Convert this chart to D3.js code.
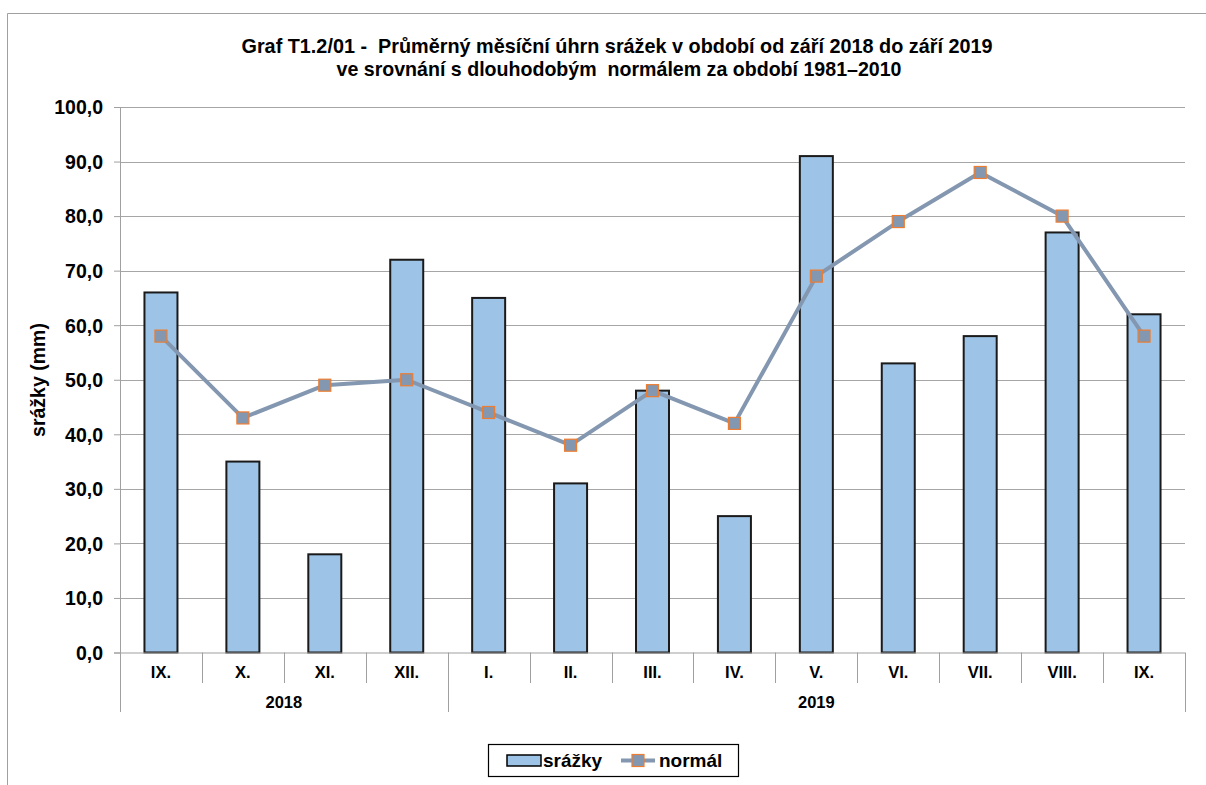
<!DOCTYPE html>
<html><head><meta charset="utf-8">
<script src="https://cdn.jsdelivr.net/npm/d3@7/dist/d3.min.js"></script>
<style>
body{margin:0;background:#fff;}
text{font-family:"Liberation Sans",Arial,sans-serif;font-weight:bold;fill:#000;white-space:pre;}
</style></head>
<body><svg id="c" width="1206" height="785"></svg>
<script>
const months = ["IX.","X.","XI.","XII.","I.","II.","III.","IV.","V.","VI.","VII.","VIII.","IX."];
const years = [{label:"2018", start:0, end:4},{label:"2019", start:4, end:13}];
const srazky = [66,35,18,72,65,31,48,25,91,53,58,77,62];
const normal = [58,43,49,50,44,38,48,42,69,79,88,80,58];
const yTicks = [0,10,20,30,40,50,60,70,80,90,100];

const svg = d3.select("#c");
const L=120, R=1185, T=107, B=652.5;
const idx = months.map((d,i)=>i);
const x = d3.scaleBand().domain(idx).range([L,R]).paddingInner(0).paddingOuter(0);
const y = d3.scaleLinear().domain([0,100]).range([B,T]);
const fmt = v => d3.format(".1f")(v).replace(".",",");

// outer frame
svg.append("line").attr("x1",7.5).attr("x2",1206).attr("y1",13.5).attr("y2",13.5).attr("stroke","#a0a0a0");
svg.append("line").attr("x1",7.5).attr("x2",7.5).attr("y1",13.5).attr("y2",785).attr("stroke","#a0a0a0");

// title
svg.append("text").attr("x",617).attr("y",53).attr("text-anchor","middle").style("font-size","19.8px")
  .attr("textLength",751).attr("lengthAdjust","spacingAndGlyphs")
  .text("Graf T1.2/01 -  Průměrný měsíční úhrn srážek v období od září 2018 do září 2019");
svg.append("text").attr("x",619).attr("y",76).attr("text-anchor","middle").style("font-size","19.8px")
  .attr("textLength",565).attr("lengthAdjust","spacingAndGlyphs")
  .text("ve srovnání s dlouhodobým  normálem za období 1981–2010");

// gridlines
svg.append("g").selectAll("line").data(yTicks.filter(d=>d>0)).join("line")
  .attr("x1",L).attr("x2",R).attr("y1",d=>Math.round(y(d))+0.5).attr("y2",d=>Math.round(y(d))+0.5)
  .attr("stroke","#a6a6a6").attr("stroke-width",1.2);

// y axis
const ya = svg.append("g").attr("transform",`translate(${L},0)`)
  .call(d3.axisLeft(y).tickValues(yTicks).tickFormat(fmt).tickSize(6).tickPadding(11));
ya.attr("font-size",null).attr("font-family",null);
ya.select(".domain").attr("stroke","#a0a0a0");
ya.selectAll(".tick line").attr("stroke","#a0a0a0");
ya.selectAll(".tick text").style("font-size","19.5px").style("fill","#000").attr("dy","0.35em");

svg.append("text").attr("transform","translate(45,380) rotate(-90)").attr("text-anchor","middle").style("font-size","19.5px").text("srážky (mm)");

// bars
const bw = 33;
svg.append("g").selectAll("rect").data(srazky).join("rect")
  .attr("x",(d,i)=>x(i)+x.bandwidth()/2-bw/2).attr("width",bw)
  .attr("y",d=>y(d)).attr("height",d=>y(0)-y(d))
  .attr("fill","#9DC3E6").attr("stroke","#1a1a1a").attr("stroke-width",2);

// x axis (baseline + category ticks)
svg.append("line").attr("x1",L).attr("x2",R).attr("y1",B+0.5).attr("y2",B+0.5).attr("stroke","#a0a0a0").attr("stroke-width",1.2);
const bounds = d3.range(months.length+1).map(i=> i<months.length ? x(i) : R);
svg.append("g").selectAll("line").data(bounds).join("line")
  .attr("x1",d=>Math.round(d)+0.5).attr("x2",d=>Math.round(d)+0.5).attr("y1",B).attr("y2",683)
  .attr("stroke","#a0a0a0");
svg.append("g").selectAll("text").data(months).join("text")
  .attr("x",(d,i)=>x(i)+x.bandwidth()/2).attr("y",678).attr("text-anchor","middle").style("font-size","16.5px").text(d=>d);
// year separators
const yb = [0,4,13].map(i=> i<months.length ? x(i) : R);
svg.append("g").selectAll("line").data(yb).join("line")
  .attr("x1",d=>Math.round(d)+0.5).attr("x2",d=>Math.round(d)+0.5).attr("y1",683).attr("y2",712)
  .attr("stroke","#a0a0a0");
svg.append("g").selectAll("text").data(years).join("text")
  .attr("x",d=>{const a=x(d.start), b=d.end<months.length?x(d.end):R; return (a+b)/2;})
  .attr("y",708).attr("text-anchor","middle").style("font-size","16.5px").text(d=>d.label);

// normal line
const line = d3.line().x((d,i)=>x(i)+x.bandwidth()/2).y(d=>y(d));
svg.append("path").datum(normal).attr("d",line).attr("fill","none").attr("stroke","#8497B0").attr("stroke-width",4).attr("stroke-linejoin","round");
const ms=12;
svg.append("g").selectAll("rect").data(normal).join("rect")
  .attr("x",(d,i)=>x(i)+x.bandwidth()/2-ms/2).attr("y",d=>y(d)-ms/2).attr("width",ms).attr("height",ms)
  .attr("fill","#8497B0").attr("stroke","#ED7D31").attr("stroke-width",1.2);

// legend
const lg = svg.append("g");
lg.append("rect").attr("x",488.5).attr("y",744.5).attr("width",250).attr("height",32).attr("fill","#fff").attr("stroke","#000").attr("stroke-width",1.2);
lg.append("rect").attr("x",507).attr("y",755).attr("width",34).attr("height",11).attr("fill","#9DC3E6").attr("stroke","#000").attr("stroke-width",1.5);
lg.append("text").attr("x",543).attr("y",767).style("font-size","19px").text("srážky");
lg.append("line").attr("x1",621).attr("x2",655).attr("y1",760.5).attr("y2",760.5).attr("stroke","#8497B0").attr("stroke-width",4);
lg.append("rect").attr("x",632).attr("y",754.5).attr("width",12).attr("height",12).attr("fill","#8497B0").attr("stroke","#ED7D31").attr("stroke-width",1.2);
lg.append("text").attr("x",659).attr("y",767).style("font-size","19px").text("normál");
</script></body></html>
